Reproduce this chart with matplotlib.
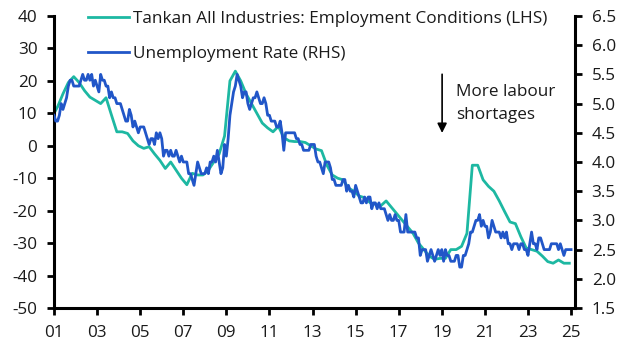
import numpy as np
import matplotlib
matplotlib.use("Agg")
import matplotlib.pyplot as plt
from matplotlib.lines import Line2D

plt.rcParams['font.family'] = ['Open Sans', 'DejaVu Sans']
plt.rcParams['axes.unicode_minus'] = False

# Tankan employment conditions DI, quarterly (Dec 2000, then Mar/Jun/Sep/Dec 2001-2024)
tankan = [9,
          12, 16, 19.5, 21.3,
          19.5, 17, 15, 14,
          13, 14.8, 9.5, 4.3,
          4.3, 3.8, 1.5, 0,
          -0.8, -0.3, -2.5, -4.5,
          -7, -5, -7.5, -10,
          -12, -8.5, -9, -9,
          -7.5, -5, -2.5, 3,
          20, 23, 20, 16,
          13, 10, 7, 5.5,
          4.3, 6, 2.5, 1.5,
          1.3, 1.3, 1, 0,
          -1, -1.5, -6, -9,
          -10, -10.5, -13, -14,
          -15.5, -16, -17.5, -18,
          -18.5, -17, -19, -21,
          -23, -25, -27, -30,
          -32, -34, -35, -34.7,
          -34.7, -32, -32, -31,
          -27, -6, -6, -10.5,
          -12.5, -14, -17, -20.3,
          -23.5, -24, -28, -31.5,
          -32, -32.5, -34, -35.7,
          -36.2, -35.2, -36.2, -36.2]
tankan_dates = [2000 + 11 / 12] + [y + (m - 1) / 12 for y in range(2001, 2025) for m in (3, 6, 9, 12)]

# Unemployment rate, monthly Jan 2001 - Jan 2025
unemp = [4.8, 4.7, 4.7, 4.8, 5.0, 4.9, 5.0, 5.1, 5.3, 5.4, 5.4, 5.3,
         5.3, 5.3, 5.3, 5.4, 5.5, 5.4, 5.4, 5.5, 5.4, 5.5, 5.3, 5.4,
         5.3, 5.2, 5.5, 5.4, 5.4, 5.3, 5.3, 5.1, 5.2, 5.1, 5.1, 5.0,
         5.0, 5.0, 4.9, 4.8, 4.7, 4.7, 4.9, 4.8, 4.6, 4.7, 4.6, 4.5,
         4.6, 4.6, 4.6, 4.5, 4.4, 4.3, 4.4, 4.4, 4.3, 4.5, 4.4, 4.5,
         4.4, 4.1, 4.2, 4.2, 4.1, 4.2, 4.1, 4.1, 4.2, 4.1, 4.0, 4.1,
         4.0, 4.0, 4.0, 3.8, 3.8, 3.7, 3.6, 3.8, 4.0, 3.9, 3.8, 3.8,
         3.8, 3.9, 3.8, 4.0, 4.0, 4.1, 4.0, 4.2, 4.0, 3.8, 3.9, 4.3,
         4.1, 4.4, 4.8, 5.0, 5.2, 5.3, 5.5, 5.4, 5.3, 5.1, 5.2, 5.2,
         5.0, 4.9, 5.0, 5.1, 5.1, 5.2, 5.1, 5.0, 5.0, 5.1, 5.0, 4.8,
         4.8, 4.7, 4.7, 4.7, 4.6, 4.6, 4.7, 4.5, 4.2, 4.5, 4.5, 4.5,
         4.5, 4.5, 4.5, 4.4, 4.4, 4.3, 4.3, 4.2, 4.2, 4.2, 4.2, 4.3,
         4.3, 4.3, 4.1, 4.0, 4.0, 3.9, 3.8, 4.0, 4.0, 4.0, 3.9, 3.7,
         3.7, 3.6, 3.6, 3.6, 3.6, 3.7, 3.7, 3.5, 3.6, 3.5, 3.5, 3.4,
         3.6, 3.5, 3.4, 3.3, 3.3, 3.4, 3.3, 3.4, 3.4, 3.2, 3.3, 3.3,
         3.2, 3.3, 3.2, 3.2, 3.2, 3.1, 3.0, 3.1, 3.0, 3.0, 3.1, 3.0,
         3.0, 2.8, 2.8, 2.8, 3.1, 2.8, 2.8, 2.8, 2.8, 2.8, 2.7, 2.7,
         2.4, 2.5, 2.5, 2.5, 2.3, 2.4, 2.5, 2.4, 2.3, 2.4, 2.5, 2.4,
         2.5, 2.3, 2.5, 2.4, 2.4, 2.3, 2.3, 2.3, 2.4, 2.4, 2.2, 2.2,
         2.4, 2.4, 2.5, 2.6, 2.8, 2.8, 2.9, 3.0, 3.0, 3.1, 2.9, 3.0,
         2.9, 2.9, 2.7, 2.8, 3.0, 2.9, 2.8, 2.8, 2.8, 2.7, 2.8, 2.7,
         2.8, 2.6, 2.6, 2.5, 2.6, 2.6, 2.6, 2.5, 2.6, 2.6, 2.5, 2.5,
         2.4, 2.6, 2.8, 2.6, 2.6, 2.5, 2.7, 2.7, 2.6, 2.5, 2.5, 2.5,
         2.5, 2.6, 2.6, 2.6, 2.6, 2.5, 2.6, 2.5, 2.4, 2.5, 2.5, 2.5,
         2.5]
unemp_dates = [2001 + i / 12 for i in range(len(unemp))]

xticks = list(range(2001, 2026, 2))
xlabels = ['%02d' % (y % 100) for y in xticks]
left_ticks = list(range(-50, 41, 10))
right_ticks = list(np.arange(1.5, 6.51, 0.5))

teal = '#1db8a2'
blue = '#2156c8'
fs = 12.3
txt = '#1a1a1a'

fig = plt.figure(figsize=(6.27, 3.53), dpi=100)
ax = fig.add_axes([0.0861, 0.1275, 0.8309, 0.8272])
ax2 = ax.twinx()

ax.plot(tankan_dates, tankan, color=teal, lw=2.0)
ax2.plot(unemp_dates, unemp, color=blue, lw=2.0)

ax.set_xlim(2001, 2025.18)
ax.set_ylim(-50, 40)
ax2.set_ylim(1.5, 6.5)
ax.set_xticks(xticks)
ax.set_xticklabels(xlabels)
ax.set_yticks(left_ticks)
ax2.set_yticks(right_ticks)
ax2.set_yticklabels(['%.1f' % v for v in right_ticks])

for a in (ax, ax2):
    a.spines['top'].set_visible(False)
    for s in ('left', 'right', 'bottom'):
        a.spines[s].set_linewidth(2.2)
    a.tick_params(width=2.0, length=5, pad=7, labelsize=fs, direction='out', labelcolor=txt)
ax.spines['right'].set_visible(False)
ax2.spines['left'].set_visible(False)
ax2.spines['bottom'].set_visible(False)

handles = [Line2D([], [], color=teal, lw=2.0), Line2D([], [], color=blue, lw=2.0)]
labels = ['Tankan All Industries: Employment Conditions (LHS)', 'Unemployment Rate (RHS)']
leg = ax2.legend(handles, labels, loc='upper left', bbox_to_anchor=(0.035, 1.07), frameon=False,
                 fontsize=fs, handlelength=2.4, handletextpad=0.25, labelspacing=1.1)
for t in leg.get_texts():
    t.set_color(txt)

ax2.annotate('', xy=(0.745, 0.59), xytext=(0.745, 0.81), xycoords='axes fraction',
             arrowprops=dict(arrowstyle='-|>', color='black', lw=1.2, mutation_scale=14))
ax2.text(0.772, 0.70, 'More labour\nshortages', transform=ax2.transAxes, fontsize=fs,
         va='center', ha='left', linespacing=1.6, color=txt)

fig.savefig('out.png', dpi=100)
